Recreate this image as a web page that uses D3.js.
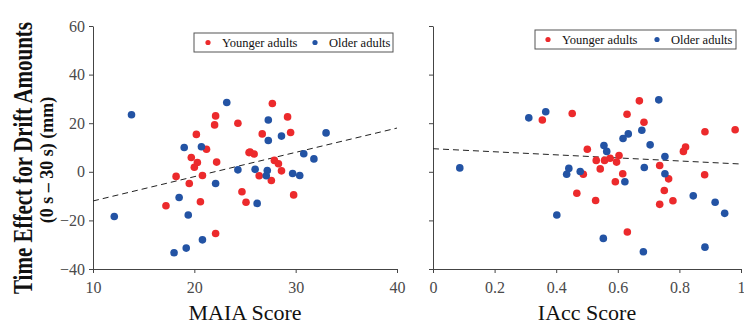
<!DOCTYPE html>
<html>
<head>
<meta charset="utf-8">
<script src="https://cdn.jsdelivr.net/npm/d3@7"></script>
<style>
  body { margin: 0; background: #fff; }
  svg text { font-family: "Liberation Serif", "Times New Roman", serif; }
</style>
</head>
<body>
<svg id="chart" width="744" height="331"></svg>
<script>
// MAIA panel
const maiaYoung = [
  [22.1, 23], [22.0, 19.3], [24.3, 20], [20.2, 15.4], [21.2, 9.3], [27.7, 28.1],
  [29.2, 22.6], [26.7, 15.6], [29.5, 16.2], [25.4, 7.9], [19.7, 5.9], [20.3, 3.8],
  [22.2, 4.0], [20.0, 1.9], [18.2, -1.9], [20.8, -1.5], [19.5, -4.8], [24.7, -8.2],
  [25.1, -12.5], [17.2, -14], [20.6, -12.3], [22.1, -25.4], [25.5, 8.1], [25.9, 7.3],
  [27.9, 4.7], [28.3, 3.3], [28.6, 0.4], [26.4, -1.6], [27.6, -3.6], [29.8, -9.5]
];
const maiaOld = [
  [13.8, 23.5], [23.2, 28.5], [19.0, 10], [20.7, 10.3], [27.3, 21.3], [27.3, 12.9],
  [28.6, 14.7], [33.0, 16.0], [24.3, 0.8], [22.1, -4.8], [18.5, -10.6], [12.1, -18.4],
  [19.4, -17.8], [20.8, -28], [19.2, -31.4], [18.0, -33.3], [30.8, 7.4], [31.8, 5.3],
  [26.0, 1.0], [27.2, 0.5], [27.1, -1.6], [29.7, -0.7], [30.4, -1.5], [26.2, -13.0]
];
const maiaFit = [[10, -12], [40, 18]];

// IAcc panel
const iaccYoung = [
  [0.355, 21.3], [0.452, 24.0], [0.501, 9.3], [0.670, 29.2], [0.630, 23.7], [0.685, 20.4],
  [0.883, 16.5], [0.981, 17.3], [0.820, 10.2], [0.488, -1.0], [0.467, -8.8], [0.813, 8.4],
  [0.530, 4.7], [0.557, 4.7], [0.575, 5.6], [0.604, 6.7], [0.596, 4.0], [0.543, 1.2],
  [0.616, -0.8], [0.736, 2.6], [0.765, -2.9], [0.882, -1.2], [0.592, -4.1], [0.751, -7.7],
  [0.779, -11.9], [0.736, -13.4], [0.528, -11.8], [0.631, -24.8]
];
const iaccOld = [
  [0.311, 22.2], [0.366, 24.7], [0.733, 29.6], [0.634, 15.6], [0.617, 13.7], [0.678, 17.1],
  [0.555, 10.8], [0.705, 11.1], [0.087, 1.6], [0.441, 1.4], [0.434, -1.0], [0.478, 0.1],
  [0.402, -17.8], [0.564, 8.4], [0.753, 6.3], [0.686, 1.8], [0.753, -0.8], [0.623, -4.1],
  [0.845, -9.9], [0.916, -12.5], [0.947, -17.1], [0.553, -27.4], [0.883, -31], [0.683, -32.9]
];
const iaccFit = [[0, 9.5], [1, 3.2]];

const yTicks = [-40, -20, 0, 20, 40, 60];
const maiaTicks = [10, 20, 30, 40];
const iaccTicks = [0, 0.2, 0.4, 0.6, 0.8, 1];
const legendNames = ["Younger adults", "Older adults"];

const red = "#ec2a2c", blue = "#2353a4", axisColor = "#444";

const svg = d3.select("#chart");

const y = d3.scaleLinear().domain([-40, 60]).range([269, 26]);

const panels = [
  { x: d3.scaleLinear().domain([10, 40]).range([93, 397]), ticks: maiaTicks, young: maiaYoung, old: maiaOld,
    fit: maiaFit, title: "MAIA Score", yLabels: true, fmt: d3.format("d"),
    legend: { x: 194, y: 33, w: 199, h: 19, dot1: 14, dot2: 121 } },
  { x: d3.scaleLinear().domain([0, 1]).range([433, 741]), ticks: iaccTicks, young: iaccYoung, old: iaccOld,
    fit: iaccFit, title: "IAcc Score", yLabels: false, fmt: d => d === 0 || d === 1 ? String(d) : d.toFixed(1),
    legend: { x: 535, y: 30, w: 201, h: 19, dot1: 13, dot2: 122 } }
];

panels.forEach(p => {
  const g = svg.append("g");

  const xAxis = g.append("g")
    .attr("transform", "translate(0," + y.range()[0] + ")")
    .call(d3.axisBottom(p.x).tickValues(p.ticks).tickFormat(p.fmt).tickSize(4).tickSizeOuter(0).tickPadding(9));

  const yAxis = g.append("g")
    .attr("transform", "translate(" + p.x.range()[0] + ",0)")
    .call(d3.axisLeft(y).tickValues(yTicks).tickSize(4).tickSizeOuter(0).tickPadding(4)
      .tickFormat(p.yLabels ? d3.format("d") : ""));

  [xAxis, yAxis].forEach(a => {
    a.attr("font-family", null);
    a.select(".domain").attr("stroke", axisColor);
    a.selectAll(".tick line").attr("stroke", axisColor);
    a.selectAll(".tick text").attr("fill", "#4a4a4a").style("font-size", "16px");
  });

  g.append("path")
    .datum(p.fit)
    .attr("d", d3.line().x(d => p.x(d[0])).y(d => y(d[1])))
    .attr("fill", "none")
    .attr("stroke", "#222")
    .attr("stroke-width", 1)
    .attr("stroke-dasharray", "6,4");

  g.append("g").selectAll("circle")
    .data(p.young)
    .enter().append("circle")
      .attr("cx", d => p.x(d[0]))
      .attr("cy", d => y(d[1]))
      .attr("r", 3.8)
      .attr("fill", red);

  g.append("g").selectAll("circle")
    .data(p.old)
    .enter().append("circle")
      .attr("cx", d => p.x(d[0]))
      .attr("cy", d => y(d[1]))
      .attr("r", 3.8)
      .attr("fill", blue);

  g.append("text")
    .attr("x", d3.mean(p.x.range()))
    .attr("y", 320)
    .attr("text-anchor", "middle")
    .style("font-size", "22px")
    .attr("fill", "#111")
    .text(p.title);

  const L = p.legend;
  const lg = g.append("g").attr("transform", "translate(" + L.x + "," + L.y + ")");
  lg.append("rect")
    .attr("width", L.w).attr("height", L.h)
    .attr("fill", "#fff").attr("stroke", "#555").attr("stroke-width", 1);
  [[L.dot1, red], [L.dot2, blue]].forEach((c, i) => {
    lg.append("circle").attr("cx", c[0]).attr("cy", L.h / 2).attr("r", 2.6).attr("fill", c[1]);
    lg.append("text")
      .attr("x", c[0] + 14).attr("y", 14)
      .style("font-size", "12.5px").attr("fill", "#111")
      .text(legendNames[i]);
  });
});

// y-axis title, two lines
svg.append("text")
  .attr("transform", "translate(32,158) rotate(-90) scale(1,1.3)")
  .attr("text-anchor", "middle")
  .style("font-size", "21px").style("font-weight", "bold").attr("fill", "#111")
  .text("Time Effect for Drift Amounts");
svg.append("text")
  .attr("transform", "translate(53,160) rotate(-90)")
  .attr("text-anchor", "middle")
  .style("font-size", "18px").style("font-weight", "bold").attr("fill", "#111")
  .text("(0 s – 30 s) (mm)");
</script>
</body>
</html>
